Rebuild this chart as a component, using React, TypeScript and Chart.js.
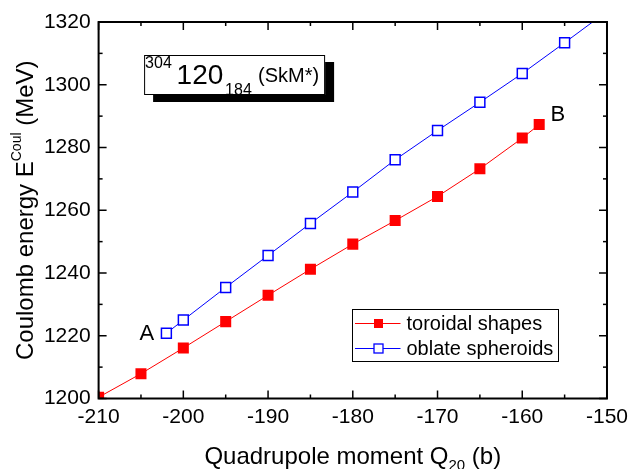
import React, { useEffect, useRef } from "react";
import { Chart, registerables } from "chart.js";

Chart.register(...registerables);

// ---- data ----
const toroidalQ = [-210, -205, -200, -195, -190, -185, -180, -175, -170, -165, -160, -158];
const toroidalE = [1200.4, 1207.9, 1216.1, 1224.5, 1232.9, 1241.2, 1249.2, 1256.7, 1264.4, 1273.2, 1283.0, 1287.3];
const oblateQ = [-202, -200, -195, -190, -185, -180, -175, -170, -165, -160, -155, -150];
const oblateE = [1220.8, 1225.0, 1235.4, 1245.6, 1255.8, 1265.8, 1276.1, 1285.4, 1294.4, 1303.6, 1313.4, 1323.4];
const seriesLabels = ["toroidal shapes", "oblate spheroids"];
const xTicks = [-210, -200, -190, -180, -170, -160, -150];
const yTicks = [1200, 1220, 1240, 1260, 1280, 1300, 1320];
const pointLabels = [
  { text: "A", q: -204.3, e: 1218.6 },
  { text: "B", q: -155.8, e: 1288.5 },
];

const FONT = '"Liberation Sans", Arial, Helvetica, sans-serif';
const RED = "#ff0000";
const BLUE = "#0000ff";

const minorOf = (ticks: number[]) => {
  const out: number[] = [];
  for (let i = 0; i < ticks.length - 1; i++) out.push((ticks[i] + ticks[i + 1]) / 2);
  return out;
};

const decor = {
  id: "decor",
  afterDatasetsDraw(chart: any) {
    const { ctx, chartArea: a, scales } = chart;
    const xs = scales.x;
    const ys = scales.y;
    ctx.save();
    ctx.strokeStyle = "#000";
    ctx.fillStyle = "#000";

    const seg = (x1: number, y1: number, x2: number, y2: number) => {
      ctx.beginPath();
      ctx.moveTo(x1, y1);
      ctx.lineTo(x2, y2);
      ctx.stroke();
    };

    // ticks (inward, mirrored)
    ctx.lineWidth = 1.5;
    const drawX = (v: number, len: number) => {
      const px = xs.getPixelForValue(v);
      seg(px, a.bottom, px, a.bottom - len);
      seg(px, a.top, px, a.top + len);
    };
    const drawY = (v: number, len: number) => {
      const py = ys.getPixelForValue(v);
      seg(a.left, py, a.left + len, py);
      seg(a.right, py, a.right - len, py);
    };
    xTicks.forEach((v) => drawX(v, 8));
    minorOf(xTicks).forEach((v) => drawX(v, 4));
    yTicks.forEach((v) => drawY(v, 8));
    minorOf(yTicks).forEach((v) => drawY(v, 4));

    // frame
    ctx.lineWidth = 2;
    ctx.strokeRect(a.left, a.top, a.right - a.left, a.bottom - a.top);

    // A / B labels
    ctx.font = `22px ${FONT}`;
    ctx.textAlign = "center";
    ctx.textBaseline = "alphabetic";
    pointLabels.forEach((p) => {
      ctx.fillText(p.text, xs.getPixelForValue(p.q), ys.getPixelForValue(p.e));
    });

    // nucleus label box with shadow
    const bx = a.left + 45.5, by = a.top + 33, bw = 181, bh = 40;
    ctx.fillStyle = "#000";
    ctx.fillRect(bx + 9, by + 7, bw, bh);
    ctx.fillStyle = "#fff";
    ctx.fillRect(bx, by, bw, bh);
    ctx.lineWidth = 1;
    ctx.strokeStyle = "#000";
    ctx.strokeRect(bx + 0.5, by + 0.5, bw - 1, bh - 1);
    ctx.fillStyle = "#000";
    ctx.textAlign = "left";
    ctx.textBaseline = "alphabetic";
    ctx.font = `16px ${FONT}`;
    ctx.fillText("304", bx + 1, by + 12.5);
    ctx.font = `28px ${FONT}`;
    ctx.fillText("120", bx + 32.5, by + 28.5);
    ctx.font = `16px ${FONT}`;
    ctx.fillText("184", bx + 81, by + 39.5);
    ctx.font = `20px ${FONT}`;
    ctx.fillText("(SkM*)", bx + 114, by + 27);

    // legend
    const lx = 352.5, ly = 309.5, lw = 206, lh = 52;
    ctx.fillStyle = "#fff";
    ctx.fillRect(lx, ly, lw, lh);
    ctx.lineWidth = 1;
    ctx.strokeStyle = "#000";
    ctx.strokeRect(lx, ly, lw, lh);
    const rows = [
      { label: seriesLabels[0], color: RED, filled: true, y: ly + 14 },
      { label: seriesLabels[1], color: BLUE, filled: false, y: ly + 39 },
    ];
    rows.forEach((r) => {
      ctx.strokeStyle = r.color;
      ctx.lineWidth = 1;
      seg(lx + 2.5, r.y, lx + 48, r.y);
      const s = 9;
      const mx = lx + 26;
      if (r.filled) {
        ctx.fillStyle = r.color;
        ctx.fillRect(mx - s / 2, r.y - s / 2, s, s);
      } else {
        ctx.fillStyle = "#fff";
        ctx.fillRect(mx - s / 2, r.y - s / 2, s, s);
        ctx.lineWidth = 1.3;
        ctx.strokeRect(mx - s / 2, r.y - s / 2, s, s);
      }
      ctx.fillStyle = "#000";
      ctx.font = `20px ${FONT}`;
      ctx.textAlign = "left";
      ctx.textBaseline = "middle";
      ctx.fillText(r.label, lx + 54, r.y + 1);
    });

    ctx.restore();

    // axis titles (with sub/superscripts)
    ctx.save();
    ctx.fillStyle = "#000";
    ctx.textBaseline = "alphabetic";
    ctx.textAlign = "left";
    // x title
    {
      const parts = [
        { t: "Quadrupole moment Q", f: 24, dy: 0 },
        { t: "20", f: 15, dy: 6 },
        { t: " (b)", f: 24, dy: 0 },
      ];
      let total = 0;
      parts.forEach((p) => {
        ctx.font = `${p.f}px ${FONT}`;
        total += ctx.measureText(p.t).width;
      });
      let x = (a.left + a.right) / 2 - total / 2;
      const base = 464;
      parts.forEach((p) => {
        ctx.font = `${p.f}px ${FONT}`;
        ctx.fillText(p.t, x, base + p.dy);
        x += ctx.measureText(p.t).width;
      });
    }
    // y title
    {
      const parts = [
        { t: "Coulomb energy E", f: 24, dy: 0 },
        { t: "Coul", f: 14, dy: -12 },
        { t: " (MeV)", f: 24, dy: 0 },
      ];
      ctx.translate(33, (a.top + a.bottom) / 2);
      ctx.rotate(-Math.PI / 2);
      let total = 0;
      parts.forEach((p) => {
        ctx.font = `${p.f}px ${FONT}`;
        total += ctx.measureText(p.t).width;
      });
      let x = -total / 2;
      parts.forEach((p) => {
        ctx.font = `${p.f}px ${FONT}`;
        ctx.fillText(p.t, x, p.dy);
        x += ctx.measureText(p.t).width;
      });
    }
    ctx.restore();
  },
};

export default function App() {
  const ref = useRef<HTMLCanvasElement | null>(null);

  useEffect(() => {
    if (!ref.current) return;
    const chart = new Chart(ref.current, {
      type: "line",
      data: {
        datasets: [
          {
            label: seriesLabels[0],
            data: toroidalQ.map((q, i) => ({ x: q, y: toroidalE[i] })),
            borderColor: RED,
            backgroundColor: RED,
            borderWidth: 1,
            pointStyle: "rect",
            pointRadius: 7.8,
            pointBorderWidth: 0,
            pointBackgroundColor: RED,
            pointBorderColor: RED,
            clip: 0,
          },
          {
            label: seriesLabels[1],
            data: oblateQ.map((q, i) => ({ x: q, y: oblateE[i] })),
            borderColor: BLUE,
            backgroundColor: "#fff",
            borderWidth: 1,
            pointStyle: "rect",
            pointRadius: 7,
            pointBorderWidth: 1.5,
            pointBackgroundColor: "#fff",
            pointBorderColor: BLUE,
            clip: 0,
          },
        ],
      },
      options: {
        animation: false,
        responsive: true,
        maintainAspectRatio: false,
        devicePixelRatio: 1,
        layout: { padding: { left: 0, top: 22, right: 22, bottom: 0 } },
        plugins: {
          legend: { display: false },
          tooltip: { enabled: false },
        },
        scales: {
          x: {
            type: "linear",
            min: -210,
            max: -150,
            grid: { display: false, drawTicks: false },
            border: { display: false },
            afterBuildTicks: (s: any) => {
              s.ticks = xTicks.map((v) => ({ value: v }));
            },
            afterFit: (s: any) => {
              s.height = 70.5;
            },
            ticks: {
              color: "#000",
              font: { family: FONT, size: 21 },
              padding: 6,
              maxRotation: 0,
              autoSkip: false,
              callback: (v: any) => String(v),
            },
          },
          y: {
            type: "linear",
            min: 1200,
            max: 1320,
            grid: { display: false, drawTicks: false },
            border: { display: false },
            afterBuildTicks: (s: any) => {
              s.ticks = yTicks.map((v) => ({ value: v }));
            },
            afterFit: (s: any) => {
              s.width = 98.6;
            },
            ticks: {
              color: "#000",
              font: { family: FONT, size: 21 },
              padding: 8,
              autoSkip: false,
              callback: (v: any) => String(v),
            },
          },
        },
      },
      plugins: [decor],
    } as any);
    return () => chart.destroy();
  }, []);

  return (
    <div style={{ position: "fixed", left: 0, top: 0, width: 634, height: 469, background: "#fff" }}>
      <canvas ref={ref} />
    </div>
  );
}
